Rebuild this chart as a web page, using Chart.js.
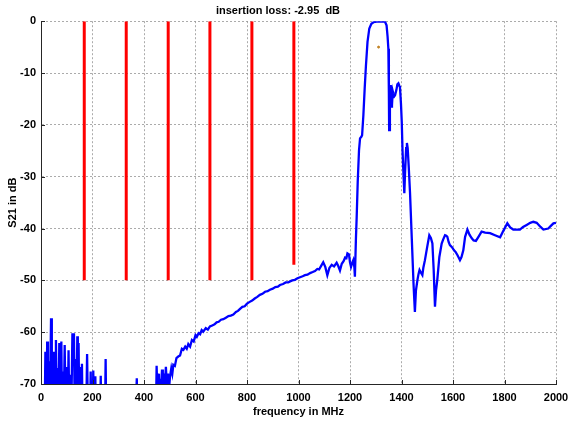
<!DOCTYPE html>
<html>
<head>
<meta charset="utf-8">
<script src="https://cdn.jsdelivr.net/npm/chart.js@4.4.1/dist/chart.umd.min.js"></script>
<style>
  html, body { margin: 0; padding: 0; background: #fff; }
  #wrap { width: 570px; height: 421px; }
</style>
</head>
<body>
<div id="wrap"><canvas id="c"></canvas></div>
<script>
// S21 sweep, frequency in MHz / level in dB (values under -70 sit below the axis)
const freq = [
  0,14,17,19,22,24,27,31,34,39,42,47,50,53,55,58,62,66,68,71,74,79,82,85,88,92,96,101,104,107,110,114,117,122,125,128,131,135,138,141,143,146,149,153,156,159,162,
  175,179,183,190,193,196,201,203,206,209,211,214,229,232,235,248,251,254,
  365,372,376,
  445,449,452,455,458,462,466,470,473,476,480,485,489,493,497,501,506,510,514,520,526,533,540,547,553,560,566,572,579,586,593,600,605,612,618,624,630,640,648,656,665,674,682,690,699,708,718,728,737,747,757,765,773,782,791,800,809,820,830,840,850,860,870,880,889,900,910,920,928,940,950,960,967,976,986,996,
  1006,1016,1025,1035,1045,1055,1064,1073,1080,1088,1096,1104,1112,1120,1129,1138,1148,1154,1161,1168,1175,1181,1186,1190,1196,1200,1204,1209,1213,1217,1219,
  1223,1226,1230,1235,1239,1244,1247,1252,1257,1262,1268,1275,1283,1291,1304,1320,1336,1342,1346,1349,1351,1352,1355,1358,1361,1363,1366,1368,1372,1375,1380,1384,1388,1392,1394,1398,
  1401,1404,1408,1411,1414,1418,1421,1424,1428,1433,1440,1447,1452,1456,1462,1466,1470,1475,1481,1485,1491,1500,1508,1514,1520,1525,1530,1534,1539,1547,1556,1562,1569,1574,1578,1583,1588,1596,
  1604,1610,1617,1622,1627,1633,1640,1647,1656,1664,1673,1680,1689,1700,1711,1725,1744,1763,1783,1795,1811,1822,1834,1860,1872,1886,1900,1912,1925,1940,1951,1970,1980,1990,2000
];
const s21 = [
  -80,-78,-63.8,-76,-72,-61.8,-75,-65.6,-78,-57.3,-76,-63.8,-75,-66.7,-74,-61.5,-77,-66.9,-76,-62.1,-75,-61.8,-78,-67.6,-76,-62.5,-78,-66.7,-75,-63.5,-77,-68.2,-78,-60.2,-66,-60.2,-76,-65.2,-74,-60.8,-72,-62.1,-77,-66.7,-76,-66.1,-78,
  -78,-64.2,-78,-77,-67.6,-78,-76,-67.4,-78,-77,-68.5,-79,-79,-68.4,-79,-79,-65.2,-80,
  -80,-68.9,-80,
  -80,-66.5,-72,-68,-73,-69,-71,-67.2,-72,-68,-71,-66.7,-70.5,-68,-71,-68.6,-67,-68,-66.3,-66.5,-65,-64.7,-64.5,-63.2,-63.4,-62.8,-63.2,-62.3,-62.8,-61.5,-61.8,-60.6,-60.9,-60.2,-60.4,-59.6,-59.9,-59.2,-59.5,-58.9,-58.7,-58.5,-58.1,-58.0,-57.6,-57.5,-57.2,-56.9,-56.8,-56.6,-56.1,-55.9,-55.5,-55.1,-55.0,-54.5,-54.2,-53.9,-53.5,-53.2,-52.8,-52.6,-52.2,-52.1,-51.8,-51.6,-51.3,-51.2,-50.9,-50.7,-50.4,-50.4,-50.2,-50.0,-49.9,-49.6,
  -49.4,-49.2,-49.0,-48.9,-48.6,-48.4,-48.2,-47.8,-47.9,-47.2,-46.5,-47.4,-49.0,-47.6,-47.0,-47.3,-46.6,-47.2,-48.1,-46.8,-46.3,-45.6,-45.7,-44.8,-45.0,-46.5,-47.4,-46.6,-46.1,-47.5,-49.3,
  -42,-37.7,-31,-24.9,-22.6,-22.3,-22.0,-18.1,-13,-8.5,-4,-1.4,-0.5,-0.2,-0.1,-0.1,-0.1,-0.8,-3,-5.3,-14,-21.0,-15,-12.3,-16.5,-16.2,-13.5,-13.9,-14.5,-14.3,-13.3,-12.2,-12.0,-12.5,-12.7,-16,
  -19.4,-25,-30,-33.2,-29,-24.5,-23.5,-24.5,-28,-33,-42,-51,-56.1,-52,-49.9,-48.8,-48.0,-48.5,-49.0,-47.5,-46.1,-43.5,-41.3,-41.8,-42.9,-48,-55.1,-52,-49.9,-45.5,-42.9,-42.1,-41.3,-41.4,-41.6,-42.6,-43.2,-43.6,
  -44.2,-44.5,-45.1,-45.6,-46.1,-45.5,-44.2,-41.6,-40.2,-41.2,-41.9,-42.3,-42.4,-41.5,-40.6,-40.8,-40.9,-41.3,-41.7,-40.5,-39.0,-39.8,-40.2,-40.2,-39.7,-39.3,-38.9,-38.7,-38.9,-39.7,-40.2,-40.0,-39.5,-39.0,-38.9
];

// red channel markers: frequency and lower end (upper end is 0 dB)
const markerFreq = [168, 331, 494, 656, 819, 982];
const markerLow = [-50, -50, -50, -50, -50, -47];

// single marker point
const dotFreq = [1311];
const dotLevel = [-5.0];

const xTicks = [0, 200, 400, 600, 800, 1000, 1200, 1400, 1600, 1800, 2000];
const yTicks = [0, -10, -20, -30, -40, -50, -60, -70];

const titleText = 'insertion loss: -2.95  dB';
const FONT = 'Liberation Sans, Arial, Helvetica, sans-serif';

const datasets = [];
markerFreq.forEach((f, i) => {
  datasets.push({
    data: [{x: f, y: 0}, {x: f, y: markerLow[i]}],
    borderColor: '#ff0000',
    borderWidth: 3,
    pointRadius: 0,
    showLine: true
  });
});
datasets.push({
  data: freq.map((f, i) => ({x: f, y: s21[i]})),
  borderColor: '#0000ff',
  borderWidth: 2.3,
  pointRadius: 0,
  showLine: true,
  tension: 0
});
datasets.push({
  data: dotFreq.map((f, i) => ({x: f, y: dotLevel[i]})),
  backgroundColor: '#c08020',
  borderColor: '#c08020',
  pointRadius: 1,
  showLine: false
});

// MATLAB-like ticks pointing into the plot
const innerTicks = {
  id: 'innerTicks',
  afterDatasetsDraw(chart) {
    const {ctx, chartArea: a, scales: {x, y}} = chart;
    ctx.save();
    ctx.strokeStyle = '#262626';
    ctx.lineWidth = 1;
    ctx.beginPath();
    xTicks.forEach(v => {
      const px = Math.round(x.getPixelForValue(v)) + 0.5;
      ctx.moveTo(px, a.bottom); ctx.lineTo(px, a.bottom - 4);
    });
    yTicks.forEach(v => {
      const py = Math.round(y.getPixelForValue(v)) + 0.5;
      ctx.moveTo(a.left, py); ctx.lineTo(a.left + 4, py);
    });
    ctx.stroke();
    ctx.restore();
  }
};

const gridStyle = {
  color: 'rgba(150,150,150,0.8)',
  lineWidth: 1,
  drawTicks: false
};
const plain = (v) => String(v);

new Chart(document.getElementById('c'), {
  type: 'scatter',
  data: { datasets },
  plugins: [innerTicks],
  options: {
    responsive: true,
    maintainAspectRatio: false,
    animation: false,
    layout: { padding: { left: 0, right: 14, top: 0, bottom: 0 } },
    plugins: {
      legend: { display: false },
      tooltip: { enabled: false },
      title: {
        display: true,
        text: titleText,
        color: '#000',
        font: { family: FONT, size: 11, weight: 'bold' },
        padding: { top: 4, bottom: 4 }
      }
    },
    scales: {
      x: {
        type: 'linear',
        min: 0, max: 2000,
        afterBuildTicks: (s) => { s.ticks = xTicks.map(v => ({value: v})); },
        afterFit: (s) => { s.height = 37; s.paddingLeft = 0; s.paddingRight = 0; },
        grid: gridStyle,
        border: { display: true, color: '#262626', width: 1, dash: [2, 2] },
        ticks: {
          color: '#000',
          padding: 7,
          maxRotation: 0,
          callback: plain,
          font: { family: FONT, size: 11, weight: 'bold' }
        },
        title: {
          display: true,
          text: 'frequency in MHz',
          color: '#000',
          font: { family: FONT, size: 11, weight: 'bold' },
          padding: { top: 0, bottom: 2 }
        }
      },
      y: {
        type: 'linear',
        min: -70, max: 0,
        afterBuildTicks: (s) => { s.ticks = yTicks.map(v => ({value: v})); },
        afterFit: (s) => { s.width = 41; },
        grid: gridStyle,
        border: { display: true, color: '#262626', width: 1, dash: [2, 2] },
        ticks: {
          color: '#000',
          padding: 5,
          callback: plain,
          font: { family: FONT, size: 11, weight: 'bold' }
        },
        title: {
          display: true,
          text: 'S21 in dB',
          color: '#000',
          font: { family: FONT, size: 11, weight: 'bold' },
          padding: { top: 6, bottom: 0 }
        }
      }
    }
  }
});
</script>
</body>
</html>
